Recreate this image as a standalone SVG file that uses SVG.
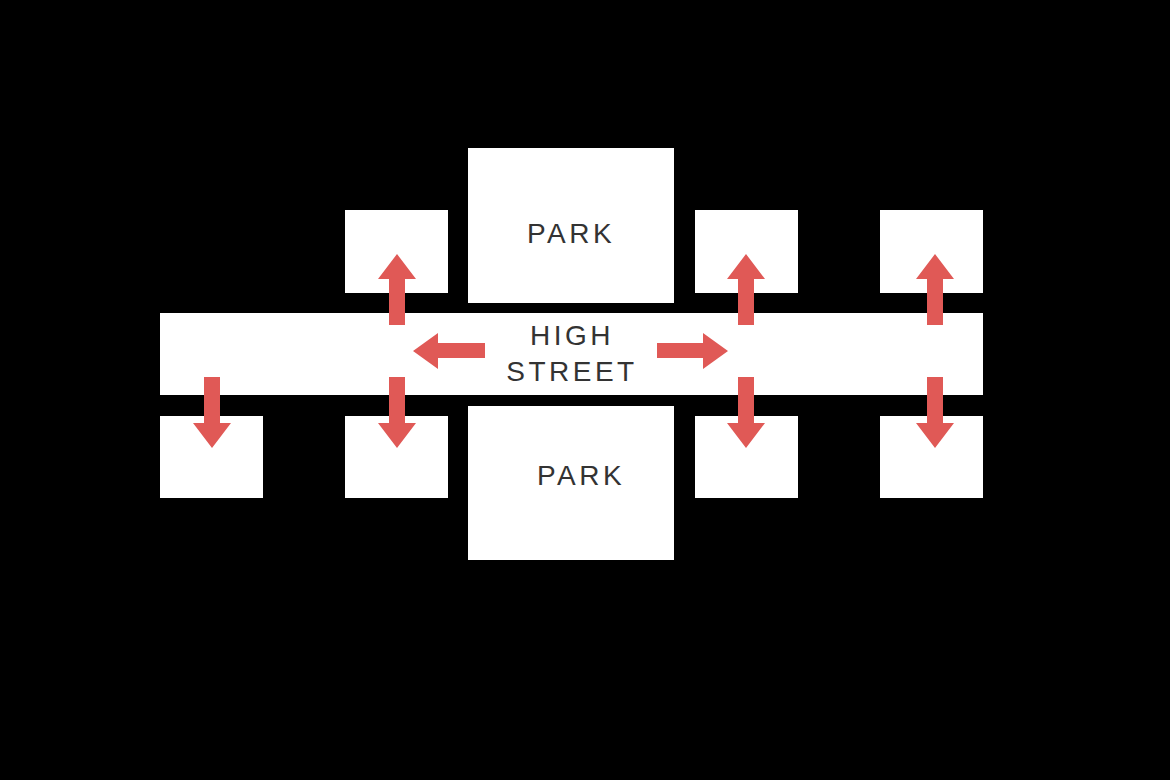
<svg xmlns="http://www.w3.org/2000/svg" width="1170" height="780" viewBox="0 0 1170 780">
<style>
.blk{fill:#ffffff}
.lbl{font-family:"Liberation Sans",Arial,sans-serif;font-size:28px;fill:#333333;letter-spacing:3.5px;text-anchor:middle}
.arr{fill:#e05956}
</style>
<defs>
<path id="up" d="M0,0 L19,25 L8,25 L8,71 L-8,71 L-8,25 L-19,25 Z"/>
<path id="down" d="M0,0 L19,-25 L8,-25 L8,-71 L-8,-71 L-8,-25 L-19,-25 Z"/>
</defs>
<rect x="0" y="0" width="1170" height="780" fill="#000000"/>
<g id="street"><rect class="blk" x="160" y="313" width="823" height="82"/><text class="lbl" x="572" y="345">HIGH</text><text class="lbl" x="572" y="381">STREET</text></g>
<g id="park-top"><rect class="blk" x="468" y="148" width="206" height="155"/><text class="lbl" x="571" y="243">PARK</text></g>
<g id="park-bottom"><rect class="blk" x="468" y="406" width="206" height="154"/><text class="lbl" x="581" y="485">PARK</text></g>
<g id="block-t1"><rect class="blk" x="345" y="210" width="103" height="83"/></g>
<g id="block-t2"><rect class="blk" x="695" y="210" width="103" height="83"/></g>
<g id="block-t3"><rect class="blk" x="880" y="210" width="103" height="83"/></g>
<g id="block-b0"><rect class="blk" x="160" y="416" width="103" height="82"/></g>
<g id="block-b1"><rect class="blk" x="345" y="416" width="103" height="82"/></g>
<g id="block-b2"><rect class="blk" x="695" y="416" width="103" height="82"/></g>
<g id="block-b3"><rect class="blk" x="880" y="416" width="103" height="82"/></g>
<g id="connectors" class="arr">
<use href="#up" x="397" y="254"/>
<use href="#up" x="746" y="254"/>
<use href="#up" x="935" y="254"/>
<use href="#down" x="212" y="448"/>
<use href="#down" x="397" y="448"/>
<use href="#down" x="746" y="448"/>
<use href="#down" x="935" y="448"/>
<path d="M413,351 L438,333 L438,343 L485,343 L485,358 L438,358 L438,369 Z"/>
<path d="M728,351 L703,333 L703,343 L657,343 L657,358 L703,358 L703,369 Z"/>
</g>
</svg>
